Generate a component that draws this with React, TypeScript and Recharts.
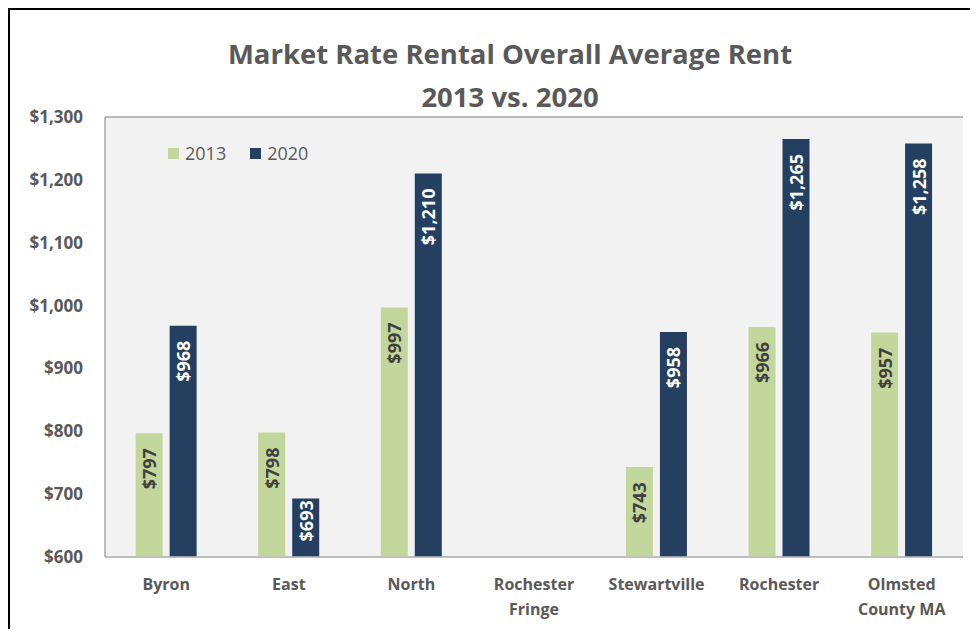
import { BarChart, Bar, XAxis, YAxis, CartesianGrid, Legend, LabelList } from "recharts";

const categories = ["Byron", "East", "North", "Rochester\nFringe", "Stewartville", "Rochester", "Olmsted\nCounty MA"];
const rent2013 = [797, 798, 997, null, 743, 966, 957];
const rent2020 = [968, 693, 1210, null, 958, 1265, 1258];
const yTicks = [600, 700, 800, 900, 1000, 1100, 1200, 1300];

const data = categories.map((name, i) => ({ name, y2013: rent2013[i], y2020: rent2020[i] }));

const FONT = "'Open Sans', 'Noto Sans', sans-serif";
const GREEN = "#c3d69b";
const NAVY = "#243f60";
const TEXT = "#595959";
const LABEL_SIZE = 18;

const money = (v: number) => "$" + v.toLocaleString("en-US");

function CategoryTick(props: any) {
  const { x, y, payload } = props;
  const lines = String(payload.value).split("\n");
  return (
    <text x={x} y={y} textAnchor="middle" fill={TEXT} fontFamily={FONT} fontSize={16} fontWeight="bold">
      {lines.map((l, i) => (
        <tspan key={i} x={x} dy={i === 0 ? 25 : 25}>{l}</tspan>
      ))}
    </text>
  );
}

function makeLabel(color: string) {
  return (props: any) => {
    const { x, y, width, height, value } = props;
    if (value == null) return null;
    const text = money(value);
    // inside end, pushed up when the bar is too short for the usual gap
    const textLen = text.length * 0.58 * LABEL_SIZE;
    const gap = Math.max(1, Math.min(15, height - textLen - 15));
    const cx = x + width / 2;
    const ty = y + gap;
    return (
      <text
        x={cx}
        y={ty}
        transform={`rotate(-90, ${cx}, ${ty})`}
        textAnchor="end"
        dominantBaseline="central"
        fill={color}
        fontFamily={FONT}
        fontSize={LABEL_SIZE}
        fontWeight="bold"
      >
        {text}
      </text>
    );
  };
}

function LegendContent() {
  const items = [
    { label: "2013", color: GREEN },
    { label: "2020", color: NAVY },
  ];
  return (
    <div style={{ display: "flex", fontFamily: FONT, fontSize: 18, color: TEXT, lineHeight: "20px" }}>
      {items.map((it) => (
        <div key={it.label} style={{ display: "flex", alignItems: "center", marginRight: 24 }}>
          <span style={{ width: 11, height: 11, background: it.color, display: "inline-block", marginRight: 6 }} />
          {it.label}
        </div>
      ))}
    </div>
  );
}

export default function App() {
  return (
    <div
      style={{
        position: "relative",
        width: 970,
        height: 621,
        borderLeft: "2px solid #000",
        borderTop: "2px solid #000",
        boxSizing: "border-box",
        background: "#fff",
      }}
    >
      <div
        style={{
          position: "absolute",
          left: 0,
          top: 22,
          width: 1000,
          textAlign: "center",
          fontFamily: FONT,
          fontSize: 27.5,
          fontWeight: "bold",
          color: TEXT,
          lineHeight: "43px",
        }}
      >
        Market Rate Rental Overall Average Rent
        <br />
        2013 vs. 2020
      </div>
      <BarChart
        width={968}
        height={619}
        data={data}
        margin={{ top: 107, right: 15, bottom: 42, left: 0 }}
        barGap={7}
        barCategoryGap="25%"
      >
        <CartesianGrid vertical={false} stroke="#a6a6a6" strokeWidth={1.5} fill="#f2f2f2" />
        <XAxis
          dataKey="name"
          tick={<CategoryTick />}
          tickLine={false}
          axisLine={{ stroke: "#bfbfbf", strokeWidth: 1.5 }}
          interval={0}
          height={30}
        />
        <YAxis
          yAxisId="left"
          width={95}
          domain={[600, 1300]}
          ticks={yTicks}
          allowDataOverflow
          tickFormatter={money}
          tickLine={false}
          axisLine={{ stroke: "#a6a6a6", strokeWidth: 1.5 }}
          tickMargin={16}
          tick={{ fill: TEXT, fontFamily: FONT, fontSize: 17, fontWeight: "bold" }}
        />
        <YAxis
          yAxisId="right"
          orientation="right"
          width={0}
          domain={[600, 1300]}
          tick={false}
          tickLine={false}
          axisLine={{ stroke: "#a6a6a6", strokeWidth: 1.5 }}
        />
        <Legend
          layout="horizontal"
          verticalAlign="middle"
          align="center"
          content={<LegendContent />}
          wrapperStyle={{ left: 158, top: 133, width: 200 }}
        />
        <Bar yAxisId="left" dataKey="y2013" name="2013" fill={GREEN} isAnimationActive={false}>
          <LabelList dataKey="y2013" content={makeLabel("#404040")} />
        </Bar>
        <Bar yAxisId="left" dataKey="y2020" name="2020" fill={NAVY} isAnimationActive={false}>
          <LabelList dataKey="y2020" content={makeLabel("#ffffff")} />
        </Bar>
      </BarChart>
    </div>
  );
}
